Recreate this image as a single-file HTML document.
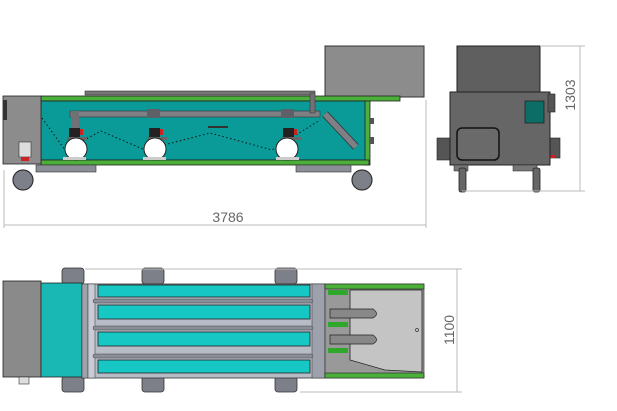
<!DOCTYPE html>
<html><head><meta charset="utf-8"><style>html,body{margin:0;padding:0;background:#fff}svg{display:block}</style></head>
<body>
<svg width="617" height="411" viewBox="0 0 617 411" xmlns="http://www.w3.org/2000/svg" font-family="Liberation Sans, sans-serif">
<!-- ===== SIDE VIEW ===== -->
<!-- hopper -->
<rect x="325" y="46" width="99" height="51" fill="#8c8c8c" stroke="#333" stroke-width="1"/>
<!-- top rail -->
<rect x="85" y="91" width="230" height="4" fill="#777" stroke="#333" stroke-width="0.6"/>
<!-- green top band -->
<rect x="41" y="96" width="359" height="5" fill="#4caf3a" stroke="#222" stroke-width="0.8"/>
<!-- tank -->
<rect x="41" y="101" width="325" height="59" fill="#0a9b98" stroke="#222" stroke-width="0.8"/>
<!-- right post -->
<rect x="365" y="101" width="5" height="64" fill="#4caf3a" stroke="#222" stroke-width="0.8"/>
<rect x="370" y="118" width="4" height="6" fill="#555"/>
<rect x="370" y="137" width="4" height="7" fill="#555"/>
<!-- bottom green bar -->
<rect x="41" y="160" width="328" height="5" fill="#4caf3a" stroke="#222" stroke-width="0.8"/>
<!-- dotted lines -->
<polyline points="42,118 65,150 101,131 145,150 210,133 272,150 320,120" fill="none" stroke="#111" stroke-width="1" stroke-dasharray="1.5,2.5"/>
<!-- pipe -->
<rect x="70" y="111" width="250" height="6" fill="#7e8086" stroke="#333" stroke-width="0.6"/>
<rect x="310" y="93" width="5" height="20" fill="#6f7176" stroke="#333" stroke-width="0.5"/>
<polyline points="325,114 356,147" stroke="#333" stroke-width="7.5" fill="none"/>
<polyline points="325,114 356,147" stroke="#7e8086" stroke-width="6" fill="none"/>
<rect x="147" y="109" width="13" height="9" fill="#5d6066"/>
<rect x="281" y="109" width="13" height="9" fill="#5d6066"/>
<rect x="71" y="111" width="8" height="18" fill="#6f7176"/>
<!-- pumps -->
<g>
<rect x="69" y="128" width="11" height="10" fill="#222"/><rect x="80" y="129" width="3" height="6" fill="#c22"/>
<rect x="67" y="137" width="20" height="3" fill="#666"/>
<circle cx="76" cy="149" r="11" fill="#fff" stroke="#222" stroke-width="1"/>
<rect x="63" y="157" width="23" height="3" fill="#ccc"/>
</g>
<g>
<rect x="149" y="128" width="11" height="10" fill="#222"/><rect x="160" y="129" width="3" height="6" fill="#c22"/>
<rect x="147" y="137" width="20" height="3" fill="#666"/>
<circle cx="155" cy="149" r="11" fill="#fff" stroke="#222" stroke-width="1"/>
<rect x="143" y="157" width="23" height="3" fill="#ccc"/>
</g>
<g>
<rect x="283" y="128" width="11" height="10" fill="#222"/><rect x="294" y="129" width="3" height="6" fill="#c22"/>
<rect x="281" y="137" width="20" height="3" fill="#666"/>
<circle cx="287" cy="149" r="11" fill="#fff" stroke="#222" stroke-width="1"/>
<rect x="276" y="157" width="23" height="3" fill="#ccc"/>
</g>
<rect x="208" y="126" width="20" height="2" fill="#333"/>
<!-- left control box -->
<rect x="3" y="96" width="38" height="68" fill="#8c8c8c" stroke="#222" stroke-width="0.8"/>
<rect x="3" y="100" width="4" height="20" fill="#333"/>
<rect x="19" y="142" width="12" height="15" fill="#ddd" stroke="#333" stroke-width="0.6"/>
<rect x="21" y="157" width="8" height="4" fill="#c22"/>
<!-- axles & wheels -->
<rect x="36" y="165" width="60" height="7" fill="#8a8e96" stroke="#333" stroke-width="0.6"/>
<rect x="296" y="165" width="55" height="7" fill="#8a8e96" stroke="#333" stroke-width="0.6"/>
<circle cx="23" cy="180" r="10" fill="#7d8089" stroke="#333" stroke-width="1.2"/>
<circle cx="362" cy="180" r="10" fill="#7d8089" stroke="#333" stroke-width="1.2"/>
<!-- dimension 3786 -->
<g stroke="#bbb" stroke-width="1" fill="none">
<line x1="4" y1="170" x2="4" y2="228"/>
<line x1="426" y1="100" x2="426" y2="228"/>
<line x1="4" y1="225" x2="426" y2="225"/>
</g>
<text x="228" y="222" font-size="14" fill="#666" text-anchor="middle">3786</text>

<!-- ===== FRONT VIEW ===== -->
<rect x="457" y="46" width="83" height="47" fill="#5f5f5f" stroke="#222" stroke-width="1"/>
<rect x="437" y="138" width="14" height="22" fill="#555" stroke="#222" stroke-width="0.6"/>
<rect x="548" y="138" width="12" height="20" fill="#555" stroke="#222" stroke-width="0.6"/>
<rect x="547" y="155" width="8" height="3" fill="#c22"/>
<rect x="450" y="92" width="100" height="73" fill="#666" stroke="#222" stroke-width="1"/>
<rect x="548" y="94" width="7" height="18" fill="#555" stroke="#222" stroke-width="0.6"/>
<rect x="525" y="101" width="19" height="22" fill="#0c6d66" stroke="#222" stroke-width="0.8"/>
<rect x="457" y="128" width="42" height="32" rx="5" fill="#6a6a6a" stroke="#111" stroke-width="1.5"/>
<rect x="454" y="165" width="14" height="6" fill="#777" stroke="#222" stroke-width="0.5"/>
<rect x="513" y="165" width="24" height="6" fill="#777" stroke="#222" stroke-width="0.5"/>
<rect x="459" y="168" width="7" height="24" rx="2" fill="#666" stroke="#222" stroke-width="0.8"/>
<rect x="533" y="168" width="7" height="24" rx="2" fill="#666" stroke="#222" stroke-width="0.8"/>
<g stroke="#bbb" stroke-width="1" fill="none">
<line x1="540" y1="46" x2="585" y2="46"/>
<line x1="462" y1="191" x2="585" y2="191"/>
<line x1="580" y1="46" x2="580" y2="191"/>
</g>
<text transform="translate(575,95) rotate(-90)" font-size="14" fill="#666" text-anchor="middle">1303</text>

<!-- ===== TOP VIEW ===== -->
<g fill="#7d8089" stroke="#333" stroke-width="0.8">
<rect x="62" y="268" width="22" height="16" rx="3"/><rect x="142" y="268" width="22" height="16" rx="3"/><rect x="275" y="268" width="22" height="16" rx="3"/>
<rect x="62" y="376" width="22" height="16" rx="3"/><rect x="142" y="376" width="22" height="16" rx="3"/><rect x="275" y="376" width="22" height="16" rx="3"/>
</g>
<rect x="3" y="281" width="38" height="96" fill="#8a8a8a" stroke="#222" stroke-width="0.8"/>
<rect x="19" y="377" width="10" height="7" fill="#ddd" stroke="#333" stroke-width="0.6"/>
<rect x="41" y="283" width="41" height="94" fill="#19b8b4" stroke="#222" stroke-width="0.8"/>
<rect x="82" y="284" width="243" height="94" fill="#b8bcc6" stroke="#333" stroke-width="0.8"/>
<rect x="82" y="284" width="6" height="94" fill="#9da1ab" stroke="#333" stroke-width="0.5"/>
<rect x="88" y="284" width="7" height="94" fill="#c8ccd4" stroke="#333" stroke-width="0.5"/>
<rect x="312" y="284" width="13" height="94" fill="#9da1ab" stroke="#333" stroke-width="0.5"/>
<g fill="#17c7c4" stroke="#222" stroke-width="0.8">
<rect x="98" y="285" width="212" height="12"/>
<rect x="98" y="305" width="212" height="14"/>
<rect x="98" y="332" width="212" height="14"/>
<rect x="98" y="360" width="212" height="13"/>
</g>
<g fill="#8a8e96" stroke="#444" stroke-width="0.5">
<rect x="93" y="299" width="220" height="4" rx="2"/>
<rect x="93" y="326" width="220" height="4" rx="2"/>
<rect x="93" y="354" width="220" height="4" rx="2"/>
</g>
<!-- right frame -->
<rect x="325" y="284" width="99" height="94" fill="#999" stroke="#222" stroke-width="0.6"/>
<rect x="325" y="284" width="99" height="5" fill="#4caf3a" stroke="#222" stroke-width="0.6"/>
<rect x="325" y="373" width="99" height="5" fill="#4caf3a" stroke="#222" stroke-width="0.6"/>
<polygon points="350,290 422,290 422,372 385,370 350,360" fill="#c4c4c4" stroke="#222" stroke-width="0.8"/>
<path d="M330,309 L373,309 Q380,314 373,318 L330,318 Z" fill="#888" stroke="#222" stroke-width="0.7"/>
<path d="M330,335 L373,335 Q380,340 373,344 L330,344 Z" fill="#888" stroke="#222" stroke-width="0.7"/>
<rect x="328" y="290" width="20" height="5" fill="#2ea82a"/>
<rect x="328" y="322" width="20" height="5" fill="#2ea82a"/>
<rect x="328" y="348" width="20" height="5" fill="#2ea82a"/>
<circle cx="417" cy="330" r="1.5" fill="none" stroke="#333" stroke-width="0.7"/>
<g stroke="#bbb" stroke-width="1" fill="none">
<line x1="85" y1="269" x2="462" y2="269"/>
<line x1="300" y1="392" x2="462" y2="392"/>
<line x1="457" y1="269" x2="457" y2="392"/>
</g>
<text transform="translate(454,330) rotate(-90)" font-size="14" fill="#666" text-anchor="middle">1100</text>
</svg>
</body></html>
